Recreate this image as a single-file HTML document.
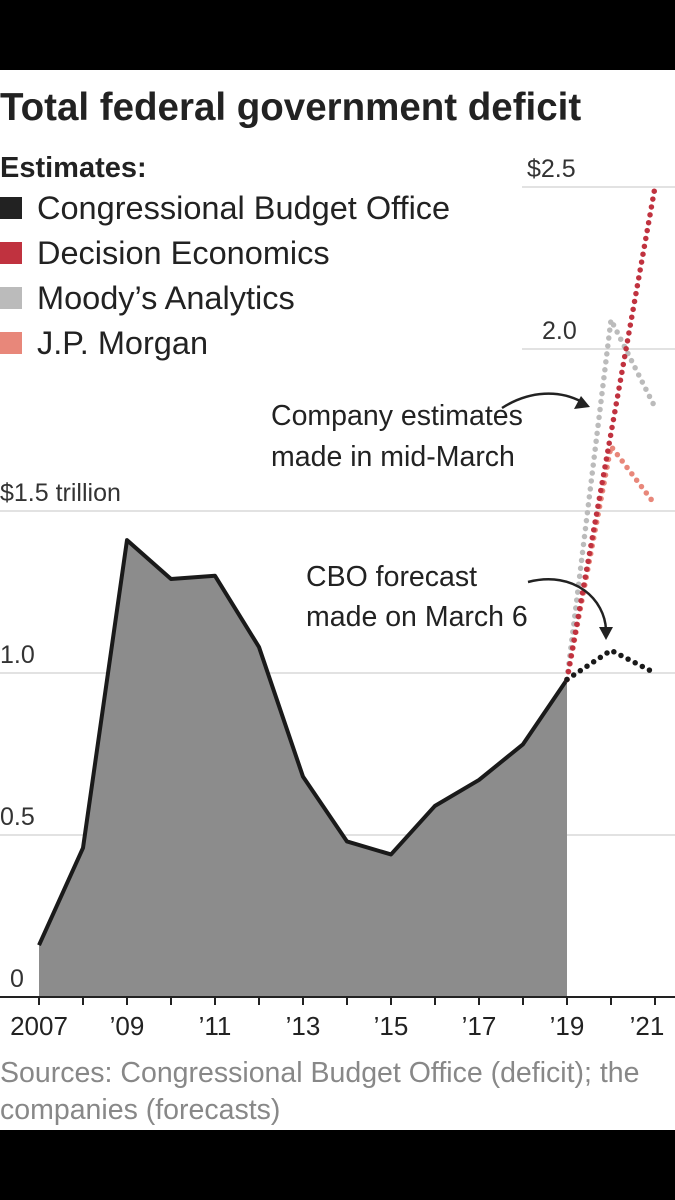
<!DOCTYPE html>
<html><head><meta charset="utf-8">
<style>
html,body{margin:0;padding:0;background:#000;}
body{width:675px;height:1200px;overflow:hidden;font-family:"Liberation Sans",sans-serif;}
</style></head>
<body>
<svg width="675" height="1200" xmlns="http://www.w3.org/2000/svg" id="chart" style="display:block" font-family="Liberation Sans, sans-serif">
<rect x="0" y="0" width="675" height="1200" fill="#000"/>
<rect x="0" y="70" width="675" height="1060" fill="#fff"/>
<text x="0" y="120" font-size="38.5" font-weight="bold" fill="#222">Total federal government deficit</text>
<text x="0" y="177" font-size="29" font-weight="bold" fill="#222">Estimates:</text>
<g id="legend"></g>
<g id="grid"></g>
<g id="area"></g>
<g id="series"></g>
<g id="axes"></g>
<text font-size="28.5" fill="#222"><tspan x="271" y="425">Company estimates</tspan><tspan x="271" y="466">made in mid-March</tspan></text>
<path d="M502,408 C530,390 560,390 582,402" fill="none" stroke="#222" stroke-width="2.5"/>
<polygon points="590,407 574,409 581,396" fill="#222"/>
<text font-size="28.5" fill="#222"><tspan x="306" y="586">CBO forecast</tspan><tspan x="306" y="626">made on March 6</tspan></text>
<path d="M528,582 C575,570 605,600 606,630" fill="none" stroke="#222" stroke-width="2.5"/>
<polygon points="606,640 599,627 613,627" fill="#222"/>
<text font-size="28.5" fill="#888"><tspan x="0" y="1082">Sources: Congressional Budget Office (deficit); the</tspan><tspan x="0" y="1119">companies (forecasts)</tspan></text>
</svg>
<script>
const years = [2007,2008,2009,2010,2011,2012,2013,2014,2015,2016,2017,2018,2019];
const deficit = [0.16,0.46,1.41,1.29,1.30,1.08,0.68,0.48,0.44,0.59,0.67,0.78,0.98];
const forecastYears = [2019,2020,2021];
const cboForecast = [0.98,1.07,1.00];
const decisionForecast = [0.98,1.74,2.50];
const moodysForecast = [0.98,2.09,1.82];
const jpmForecast = [0.98,1.70,1.52];
const yTicks = [0,0.5,1.0,1.5,2.0,2.5];
const yTickLabels = ["0","0.5","1.0","$1.5  trillion","2.0","$2.5"];
const xTicks = [2007,2008,2009,2010,2011,2012,2013,2014,2015,2016,2017,2018,2019,2020,2021];
const xTickLabels = {2007:"2007",2009:"’09",2011:"’11",2013:"’13",2015:"’15",2017:"’17",2019:"’19",2021:"’21"};
const legendNames = ["Congressional Budget Office","Decision Economics","Moody’s Analytics","J.P. Morgan"];
const legendColors = ["#222","#c0323f","#bbb","#e8877a"];

const NS="http://www.w3.org/2000/svg";
const X = y => 39 + (y-2007)*44;
const Y = v => 997 - v*324;
function mk(tag, attrs, parent){const e=document.createElementNS(NS,tag);for(const k in attrs)e.setAttribute(k,attrs[k]);parent.appendChild(e);return e;}

const leg=document.getElementById('legend');
legendNames.forEach((n,i)=>{
  const g=mk('g',{},leg);
  
  
  const cy=208+i*45;
  mk('rect',{x:0,y:cy-11,width:22,height:22,fill:legendColors[i]},g);
  const t=mk('text',{x:37,y:cy+11,'font-size':32.5,fill:'#222'},g);
  t.textContent=n;
});

const grid=document.getElementById('grid');
yTicks.forEach((v,i)=>{
  if(v===0) return;
  const x0 = v>=2 ? 522 : 0;
  const l=mk('line',{x1:x0,x2:675,y1:Y(v),y2:Y(v),stroke:'#d8d8d8','stroke-width':1.5},grid);
  
  
  const tx = v>=2 ? 527 : 0;
  const t=mk('text',{x: v===2 ? 542 : tx,y:Y(v)-10,'font-size':25,fill:'#333'},grid);
  
  
  t.textContent=yTickLabels[i];
});
const z=mk('text',{x:10,y:Y(0)-10,'font-size':25,fill:'#333'},grid);


z.textContent=yTickLabels[0];

const area=document.getElementById('area');
let d='M'+X(years[0])+','+Y(0);
years.forEach((y,i)=>{d+=' L'+X(y)+','+Y(deficit[i]);});
d+=' L'+X(years[years.length-1])+','+Y(0)+' Z';
const a=mk('path',{d:d,fill:'#8c8c8c'},area);


const ln=mk('polyline',{points:years.map((y,i)=>X(y)+','+Y(deficit[i])).join(' '),fill:'none',stroke:'#1a1a1a','stroke-width':4,'stroke-linejoin':'round'},area);



const ser=document.getElementById('series');
function dotted(vals,color,name){
  const p=mk('polyline',{points:forecastYears.map((y,i)=>X(y)+','+Y(vals[i])).join(' '),fill:'none',stroke:color,'stroke-width':5.5,'stroke-linecap':'round','stroke-dasharray':'0 8'},ser);
  
  
}
dotted(moodysForecast,'#bbb','moodys-forecast');
dotted(jpmForecast,'#e8877a','jpmorgan-forecast');
dotted(decisionForecast,'#c0323f','decision-economics-forecast');
dotted(cboForecast,'#1a1a1a','cbo-forecast');

const ax=document.getElementById('axes');
const base=mk('line',{x1:0,x2:675,y1:Y(0),y2:Y(0),stroke:'#222','stroke-width':2},ax);


xTicks.forEach(y=>{
  const t=mk('line',{x1:X(y),x2:X(y),y1:Y(0),y2:Y(0)+8,stroke:'#222','stroke-width':2},ax);
  
  
  if(xTickLabels[y]){
    const tx=mk('text',{x:X(y)+(y===2021?-8:0),y:1035,'font-size':26,fill:'#222','text-anchor':'middle'},ax);
    
    
    tx.textContent=xTickLabels[y];
  }
});
</script>
</body></html>
